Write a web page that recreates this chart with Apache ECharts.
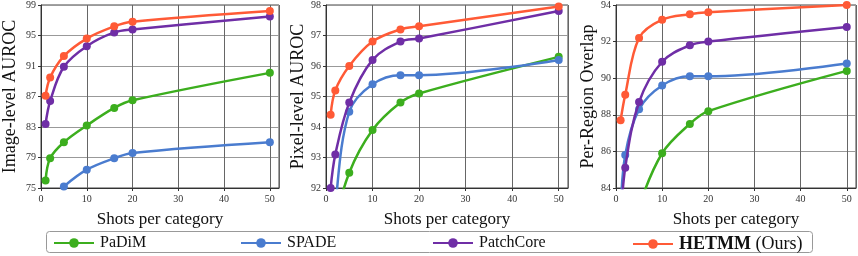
<!DOCTYPE html>
<html><head><meta charset="utf-8">
<script src="https://cdn.jsdelivr.net/npm/echarts@6/dist/echarts.min.js"></script>
<style>html,body{margin:0;padding:0;background:#fff}#c{width:858px;height:256px}</style>
</head><body><div id="c"></div>
<script>
const shots = [1, 2, 5, 10, 16, 20, 50];
const methods = ['PaDiM', 'SPADE', 'PatchCore', 'HETMM'];
const colors = ['#3cae1e', '#4a7ccf', '#6f2ea6', '#ff5a36'];

// Image-level AUROC
const imgPaDiM     = [76.0, 78.9, 81.0, 83.2, 85.5, 86.5, 90.1];
const imgSPADE     = [null, null, 75.2, 77.4, 78.9, 79.6, 81.0];
const imgPatchCore = [83.4, 86.4, 90.9, 93.6, 95.4, 95.8, 97.5];
const imgHETMM     = [87.1, 89.5, 92.3, 94.6, 96.2, 96.8, 98.2];
// Pixel-level AUROC
const pixPaDiM     = [89.0, 90.8, 92.5, 93.9, 94.8, 95.1, 96.3];
const pixSPADE     = [89.0, 91.4, 94.5, 95.4, 95.7, 95.7, 96.2];
const pixPatchCore = [92.0, 93.1, 94.8, 96.2, 96.8, 96.9, 97.8];
const pixHETMM     = [94.4, 95.2, 96.0, 96.8, 97.2, 97.3, 97.95];
// Per-Region Overlap
const proPaDiM     = [78.0, 80.0, 83.0, 85.9, 87.5, 88.2, 90.4];
const proSPADE     = [82.5, 85.8, 88.3, 89.6, 90.1, 90.1, 90.8];
const proPatchCore = [82.0, 85.1, 88.7, 90.9, 91.8, 92.0, 92.8];
const proHETMM     = [87.7, 89.1, 92.2, 93.2, 93.5, 93.6, 94.0];

const panels = [
  {name: 'Image-level AUROC', min: 75, max: 99, interval: 4, data: [imgPaDiM, imgSPADE, imgPatchCore, imgHETMM]},
  {name: 'Pixel-level AUROC', min: 92, max: 98, interval: 1, data: [pixPaDiM, pixSPADE, pixPatchCore, pixHETMM]},
  {name: 'Per-Region Overlap', min: 84, max: 94, interval: 2, data: [proPaDiM, proSPADE, proPatchCore, proHETMM]}
];
const xTicks = {min: 0, max: 52, interval: 10};
const gridLefts = [39, 326, 616];
const gridWidths = [240, 242, 240];
const FONT = 'Liberation Serif';

const grids = [], xAxes = [], yAxes = [], series = [];
panels.forEach((p, i) => {
  grids.push({left: gridLefts[i], top: 5, width: gridWidths[i], height: 183, show: true,
    borderColor: '#444', borderWidth: 1, containLabel: false});
  xAxes.push({type: 'value', gridIndex: i, min: xTicks.min, max: xTicks.max, interval: xTicks.interval,
    name: 'Shots per category', nameLocation: 'middle', nameGap: 23,
    nameTextStyle: {fontFamily: FONT, fontSize: 17, color: '#111'},
    axisLine: {show: true, lineStyle: {color: '#333'}},
    axisTick: {show: true, length: 3, lineStyle: {color: '#333'}},
    axisLabel: {fontFamily: FONT, fontSize: 10, color: '#333', margin: 6, showMaxLabel: false},
    splitLine: {show: true, lineStyle: {color: '#666', width: 1}}});
  yAxes.push({type: 'value', gridIndex: i, min: p.min, max: p.max, interval: p.interval,
    name: p.name, nameLocation: 'middle', nameGap: i === 0 ? 22 : 19,
    nameTextStyle: {fontFamily: FONT, fontSize: 18, color: '#111'},
    axisLine: {show: true, lineStyle: {color: '#333'}},
    axisTick: {show: true, length: 3, lineStyle: {color: '#333'}},
    axisLabel: {fontFamily: FONT, fontSize: 10, color: '#333', margin: 5},
    splitLine: {show: true, lineStyle: {color: '#999', width: 1.2}}});
  p.data.forEach((vals, k) => {
    const pts = [];
    shots.forEach((s, j) => { if (vals[j] !== null) pts.push([s, vals[j]]); });
    series.push({type: 'line', name: methods[k], xAxisIndex: i, yAxisIndex: i,
      data: pts, smooth: 0.35, symbol: 'circle', symbolSize: 8, clip: true,
      color: colors[k], lineStyle: {width: 2.5, color: colors[k]},
      itemStyle: {color: colors[k]}, z: 2 + k, animation: false});
  });
});

const legendLefts = [53, 240, 432, 632];
const legends = methods.map((m, k) => ({
  data: [m], left: legendLefts[k], top: 235, padding: 0, itemWidth: 40, itemHeight: 12, itemGap: 0,
  selectedMode: false,
  textStyle: {fontFamily: FONT, fontSize: m === 'HETMM' ? 18 : 16, color: '#111', padding: [0,0,0,1],
    rich: {b: {fontFamily: FONT, fontSize: 18, fontWeight: 'bold', color: '#111'},
           n: {fontFamily: FONT, fontSize: 18, color: '#111'}}},
  formatter: m === 'HETMM' ? '{b|HETMM}{n| (Ours)}' : '{name}'
}));

const chart = echarts.init(document.getElementById('c'), null, {renderer: 'canvas'});
chart.setOption({
  animation: false,
  grid: grids, xAxis: xAxes, yAxis: yAxes, series: series, legend: legends,
  graphic: [{type: 'rect', shape: {x: 46.5, y: 231.5, width: 766, height: 21, r: 3},
    style: {fill: 'none', stroke: '#999', lineWidth: 1}, z: -1}]
});
</script></body></html>
